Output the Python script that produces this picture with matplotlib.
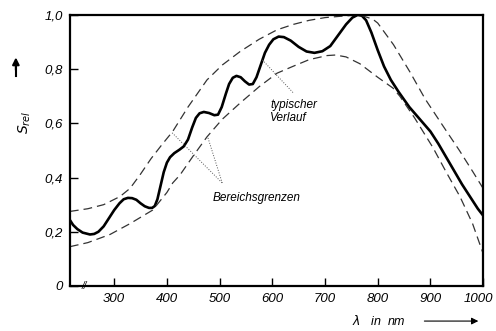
import matplotlib.pyplot as plt
from matplotlib.transforms import ScaledTranslation

# wavelength (nm) and relative sensitivity
wl_typ = [216, 222, 230, 240, 254, 262, 270, 280, 290, 300, 310, 318, 326, 334,
          342, 350, 358, 366, 372, 377, 382, 388, 394, 400, 406, 414, 424, 432,
          440, 448, 455, 462, 470, 480, 490, 497, 504, 512, 518, 525, 532, 540,
          548, 556, 563, 570, 578, 586, 594, 602, 612, 622, 635, 650, 665, 680,
          695, 710, 725, 740, 752, 762, 770, 778, 788, 800, 812, 825, 840, 860,
          880, 900, 915, 930, 945, 960, 975, 990, 1000]
s_typ = [0.243, 0.225, 0.21, 0.197, 0.19, 0.192, 0.20, 0.22, 0.25, 0.28, 0.305,
         0.32, 0.325, 0.324, 0.318, 0.305, 0.294, 0.288, 0.288, 0.295, 0.32,
         0.37, 0.42, 0.455, 0.475, 0.49, 0.503, 0.515, 0.54, 0.585, 0.62, 0.637,
         0.642, 0.638, 0.63, 0.632, 0.66, 0.71, 0.745, 0.768, 0.775, 0.77,
         0.755, 0.743, 0.745, 0.77, 0.815, 0.86, 0.89, 0.91, 0.92, 0.918, 0.905,
         0.882, 0.865, 0.86, 0.866, 0.885, 0.925, 0.965, 0.99, 1.0, 0.997, 0.98,
         0.935, 0.87, 0.81, 0.76, 0.715, 0.66, 0.615, 0.57, 0.525, 0.475, 0.425,
         0.375, 0.33, 0.285, 0.26]

wl_up = [216, 250, 280, 311, 330, 349, 370, 390, 411, 440, 476, 505, 539, 575,
         609, 640, 670, 700, 730, 765, 790, 800, 830, 861, 890, 924, 955, 981, 1000]
s_up = [0.275, 0.285, 0.30, 0.33, 0.36, 0.41, 0.47, 0.52, 0.57, 0.66, 0.76,
        0.815, 0.865, 0.91, 0.945, 0.965, 0.98, 0.99, 0.995, 1.0, 0.985, 0.97,
        0.89, 0.79, 0.69, 0.59, 0.50, 0.42, 0.36]

wl_lo = [216, 250, 292, 330, 373, 400, 411, 425, 450, 476, 505, 539, 575, 609,
         639, 670, 704, 720, 740, 766, 800, 829, 842, 870, 905, 930, 956, 980, 1000]
s_lo = [0.145, 0.16, 0.19, 0.23, 0.28, 0.345, 0.38, 0.41, 0.48, 0.55, 0.615,
        0.675, 0.735, 0.785, 0.81, 0.835, 0.85, 0.852, 0.845, 0.82, 0.77, 0.73,
        0.70, 0.62, 0.51, 0.42, 0.33, 0.23, 0.12]

x_ticks = [300, 400, 500, 600, 700, 800, 900, 1000]
y_ticks = [0, 0.2, 0.4, 0.6, 0.8, 1.0]
y_labels = ['0', '0,2', '0,4', '0,6', '0,8', '1,0']

plt.rcParams['font.family'] = 'Liberation Sans'
fig = plt.figure(figsize=(4.96, 3.31), dpi=100)
ax = fig.add_axes([0.141, 0.136, 0.833, 0.819])

ax.plot(wl_typ, s_typ, color='black', lw=1.9, solid_capstyle='round')
ax.plot(wl_up, s_up, color='#333333', lw=0.9, dashes=(7, 4))
ax.plot(wl_lo, s_lo, color='#333333', lw=0.9, dashes=(7, 4))

ax.set_xlim(216, 1000)
ax.set_ylim(0, 1.0)
ax.set_xticks(x_ticks)
ax.set_xticklabels([str(v) for v in x_ticks], style='italic', fontsize=9.5)
ax.set_yticks(y_ticks)
ax.set_yticklabels(y_labels, style='italic', fontsize=9.5)
ax.tick_params(direction='in', length=6, width=1, pad=5)
for sp in ax.spines.values():
    sp.set_linewidth(1.6)
# keep last x label inside the picture
last = ax.get_xticklabels()[-1]
last.set_transform(last.get_transform() + ScaledTranslation(-5 / 100, 0, fig.dpi_scale_trans))

# axis break mark
ax.text(0.035, 0.0, '//', transform=ax.transAxes, fontsize=7, style='italic',
        ha='center', va='center')

# annotations
ax.text(596, 0.69, 'typischer\nVerlauf', fontsize=8.5, style='italic',
        ha='left', va='top', linespacing=1.1)
ax.plot([581, 640], [0.834, 0.712], color='#555555', lw=0.7, ls=':')
ax.text(570, 0.325, 'Bereichsgrenzen', fontsize=8.5, style='italic',
        ha='center', va='center')
ax.plot([410, 505], [0.565, 0.38], color='#555555', lw=0.7, ls=':')
ax.plot([478, 505], [0.546, 0.38], color='#555555', lw=0.7, ls=':')

# axis labels with arrows
fig.text(0.05, 0.63, '$S_{rel}$', rotation=90, fontsize=10, ha='center', va='center')
fig.add_artist(plt.Line2D([0.032, 0.032], [0.77, 0.80], color='black', lw=1.5))
ax.annotate('', xy=(0.032, 0.835), xytext=(0.032, 0.78), xycoords='figure fraction',
            arrowprops=dict(arrowstyle='-|>', color='black', lw=1.5, mutation_scale=10))
fig.text(0.71, 0.03, r'$\lambda$   in  nm', fontsize=9, style='italic', ha='left', va='center')
ax.annotate('', xy=(0.97, 0.03), xytext=(0.85, 0.03), xycoords='figure fraction',
            arrowprops=dict(arrowstyle='-|>', color='black', lw=0.8, mutation_scale=10))

fig.savefig('out.png', dpi=100)
